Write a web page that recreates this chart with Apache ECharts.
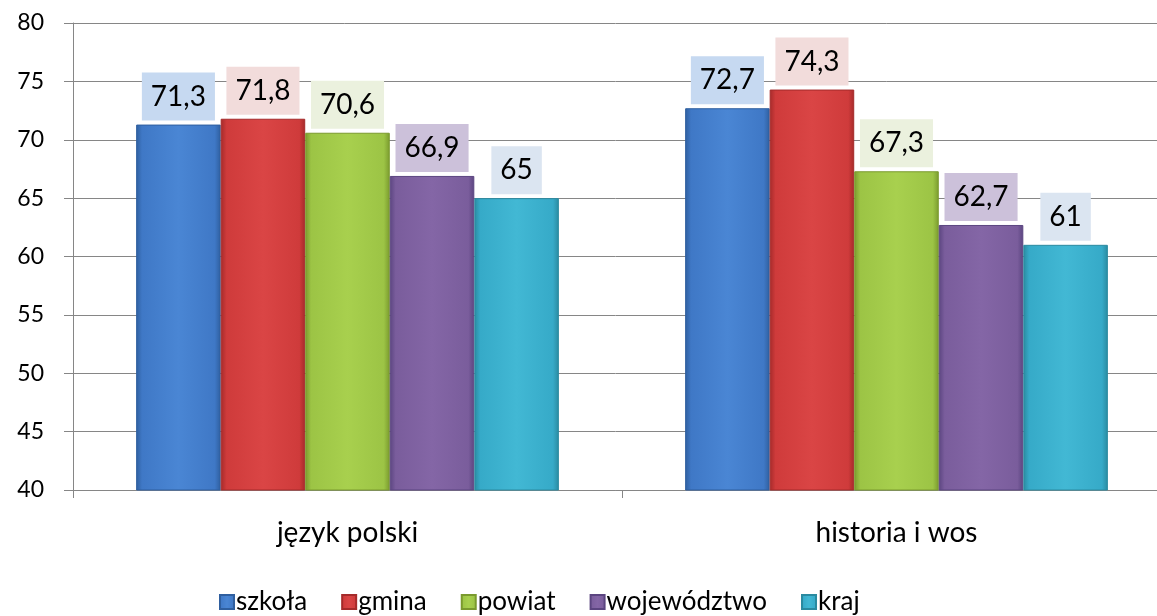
<!DOCTYPE html>
<html>
<head>
<meta charset="utf-8">
<script src="https://cdn.jsdelivr.net/npm/echarts@6/dist/echarts.min.js"></script>
<style>html,body{margin:0;padding:0;background:#fff;}#c{width:1157px;height:616px;}</style>
</head>
<body>
<div id="c"></div>
<script>
const categories = ['język polski', 'historia i wos'];
const seriesNames = ['szkoła', 'gmina', 'powiat', 'województwo', 'kraj'];
const szkola = [71.3, 72.7];
const gmina = [71.8, 74.3];
const powiat = [70.6, 67.3];
const wojewodztwo = [66.9, 62.7];
const kraj = [65, 61];
const yTicks = [40, 45, 50, 55, 60, 65, 70, 75, 80];

const values = [szkola, gmina, powiat, wojewodztwo, kraj];
const baseColors = [
  ['#2f5f9f', '#3f78c6', '#4a86d4'],
  ['#a52a2a', '#cf3b3b', '#da4545'],
  ['#7a9a2e', '#9cc445', '#a8d04e'],
  ['#5b4580', '#7a5d9c', '#8466a6'],
  ['#2a8aa0', '#36aac8', '#42b8d4']
];
const labelBg = ['#c6d9f1', '#f2dcdb', '#ebf1de', '#ccc1da', '#dbe5f1'];

function grad(c) {
  return new echarts.graphic.LinearGradient(0, 0, 1, 0, [
    {offset: 0, color: c[0]},
    {offset: 0.07, color: c[1]},
    {offset: 0.5, color: c[2]},
    {offset: 0.93, color: c[1]},
    {offset: 1, color: c[0]}
  ]);
}

const FONT = 'Lato, "Open Sans", sans-serif';
const chart = echarts.init(document.getElementById('c'), null, {renderer: 'canvas'});
chart.setOption({
  animation: false,
  backgroundColor: '#fff',
  textStyle: {fontFamily: FONT},
  grid: {left: 73, top: 23, width: 1098, height: 467, containLabel: false, outerBoundsMode: 'none'},
  legend: {
    top: 584,
    left: 214,
    itemWidth: 14,
    itemHeight: 14,
    itemGap: 34,
    icon: 'rect',
    textStyle: {fontSize: 26, color: '#000', fontFamily: FONT, padding: [0, 0, 0, -3]},
    data: seriesNames
  },
  xAxis: {
    type: 'category',
    data: categories,
    axisLine: {lineStyle: {color: '#868686'}},
    axisTick: {show: true, length: 8, lineStyle: {color: '#868686'}},
    axisLabel: {fontSize: 28, color: '#000', margin: 29, fontFamily: FONT}
  },
  yAxis: {
    type: 'value',
    min: 40, max: 80, interval: 5,
    axisLine: {show: true, lineStyle: {color: '#868686'}},
    axisTick: {show: true, length: 9, lineStyle: {color: '#868686'}},
    splitLine: {lineStyle: {color: '#868686'}},
    axisLabel: {fontSize: 23, color: '#000', margin: 29, fontFamily: FONT,
      formatter: v => yTicks.includes(v) ? String(v) : ''}
  },
  series: seriesNames.map((name, i) => ({
    name: name,
    type: 'bar',
    data: values[i],
    barGap: '0%',
    barCategoryGap: '23%',
    itemStyle: {color: grad(baseColors[i]), borderColor: baseColors[i][0], borderWidth: 1},
    label: {
      show: true,
      position: 'top',
      distance: 4,
      fontSize: 28,
      lineHeight: 30,
      color: '#000',
      fontFamily: FONT,
      backgroundColor: labelBg[i],
      padding: [9, 9],
      formatter: p => String(p.value).replace('.', ',')
    }
  }))
});
</script>
</body>
</html>
